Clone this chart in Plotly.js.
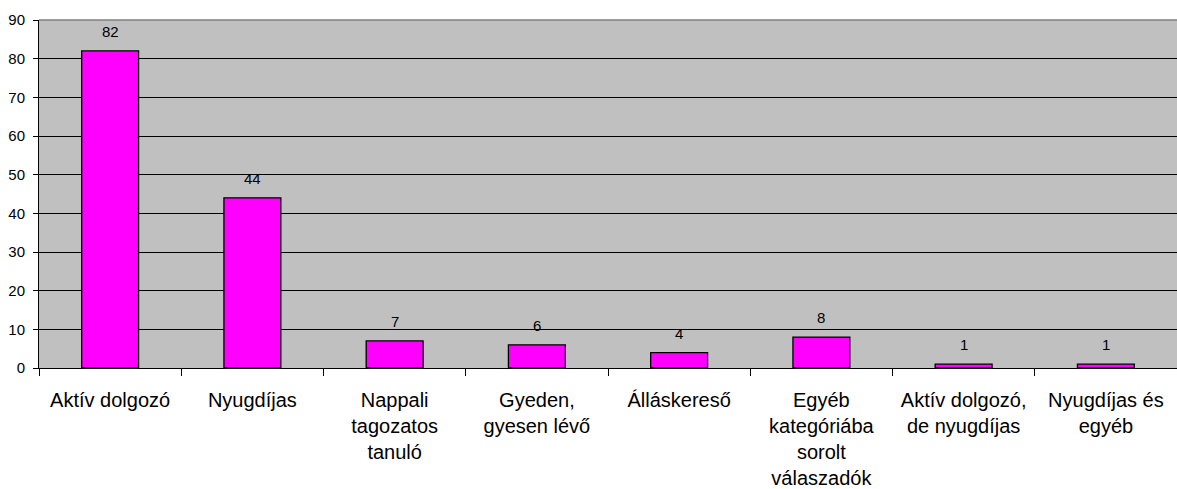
<!DOCTYPE html>
<html>
<head>
<meta charset="utf-8">
<script src="https://cdn.plot.ly/plotly-3.0.1.min.js"></script>
<style>html,body{margin:0;padding:0;background:#fff;}#chart{width:1177px;height:489px;}</style>
</head>
<body>
<div id="chart"></div>
<script>
const categories = ["Aktív dolgozó","Nyugdíjas","Nappali tagozatos tanuló","Gyeden, gyesen lévő","Álláskereső","Egyéb kategóriába sorolt válaszadók","Aktív dolgozó, de nyugdíjas","Nyugdíjas és egyéb"];
const tickLabels = ["Aktív dolgozó","Nyugdíjas","Nappali<br>tagozatos<br>tanuló","Gyeden,<br>gyesen lévő","Álláskereső","Egyéb<br>kategóriába<br>sorolt<br>válaszadók","Aktív dolgozó,<br>de nyugdíjas","Nyugdíjas és<br>egyéb"];
const values = [82, 44, 7, 6, 4, 8, 1, 1];
const yTicks = [0,10,20,30,40,50,60,70,80,90];

const font = "Liberation Sans, Arial, sans-serif";

const trace = {
  type: "bar",
  x: categories,
  y: values,
  marker: {color: "#FF00FF", line: {color: "#000000", width: 1.3}},
  hoverinfo: "x+y"
};

const annotations = categories.map((c, i) => ({
  x: c, y: values[i], text: String(values[i]),
  xref: "x", yref: "y", showarrow: false,
  yanchor: "bottom", yshift: 9,
  font: {family: font, size: 15, color: "#000"}
}));

const layout = {
  width: 1177, height: 489,
  margin: {l: 39, r: 0, t: 20, b: 121, pad: 0},
  paper_bgcolor: "#ffffff",
  plot_bgcolor: "#C0C0C0",
  bargap: 0.6,
  showlegend: false,
  font: {family: font, color: "#000"},
  xaxis: {
    type: "category",
    tickvals: categories,
    ticktext: tickLabels,
    tickson: "boundaries",
    ticks: "outside", ticklen: 7, tickcolor: "#000", tickwidth: 1,
    tickfont: {family: font, size: 20, color: "#000"},
    ticklabelstandoff: 14,
    showline: true, linecolor: "#000", linewidth: 1,
    showgrid: false, zeroline: false, tickangle: 0
  },
  yaxis: {
    range: [0, 90],
    tickvals: yTicks,
    ticks: "outside", ticklen: 5, tickcolor: "#000", tickwidth: 1,
    tickfont: {family: font, size: 15, color: "#000"},
    ticklabelstandoff: 5,
    showline: true, linecolor: "#000", linewidth: 1,
    showgrid: true, gridcolor: "#000", gridwidth: 1,
    zeroline: false
  },
  shapes: [{
    type: "line", xref: "paper", yref: "paper", x0: 0, x1: 1, y0: 1, y1: 1,
    line: {color: "#808080", width: 1.5}, layer: "above"
  }],
  annotations: annotations
};

Plotly.newPlot("chart", [trace], layout, {displayModeBar: false, staticPlot: true});
</script>
</body>
</html>
